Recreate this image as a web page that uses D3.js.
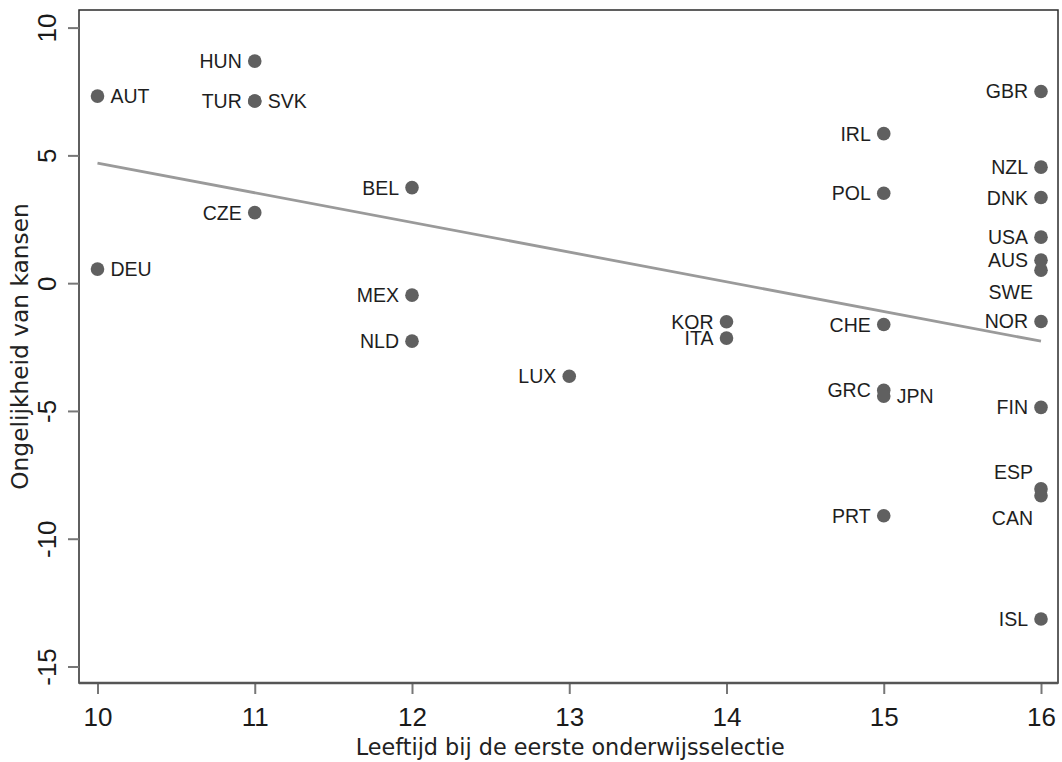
<!DOCTYPE html>
<html>
<head>
<meta charset="utf-8">
<script src="https://cdn.jsdelivr.net/npm/d3@7"></script>
<style>
  html, body { margin: 0; padding: 0; background: #fff; }
  svg { display: block; }
</style>
</head>
<body>
<svg id="chart" width="1062" height="762"></svg>
<script>
// Countries, age of first educational tracking, and inequality of opportunity
const countries = ["AUT","DEU","HUN","TUR","SVK","CZE","BEL","MEX","NLD","LUX","KOR","ITA",
                   "IRL","POL","CHE","GRC","JPN","PRT","GBR","NZL","DNK","USA","AUS","SWE",
                   "NOR","FIN","ESP","CAN","ISL"];
const trackingAge = [10,10,11,11,11,11,12,12,12,13,14,14,
                     15,15,15,15,15,15,16,16,16,16,16,16,
                     16,16,16,16,16];
const inequality = [7.32,0.55,8.69,7.13,7.13,2.76,3.74,-0.47,-2.27,-3.64,-1.51,-2.15,
                    5.85,3.52,-1.62,-4.19,-4.42,-9.10,7.50,4.54,3.35,1.80,0.90,0.51,
                    -1.50,-4.86,-8.05,-8.32,-13.14];

// Fitted regression line (end points)
const fitX = [10, 16];
const fitY = [4.70, -2.27];

// Axis ticks and titles
const xTicks = [10,11,12,13,14,15,16];
const yTicks = [-15,-10,-5,0,5,10];
const xTitle = "Leeftijd bij de eerste onderwijsselectie";
const yTitle = "Ongelijkheid van kansen";

// Marker label placement (clock position, 3 = right, 9 = left)
const labelClock = { AUT:3, DEU:3, SVK:3, JPN:3, SWE:7, CAN:7, ESP:11 };
const clockOffset = {
  3:  { dx: 13,  dy: 7,   anchor: "start" },
  9:  { dx: -13, dy: 7,   anchor: "end" },
  7:  { dx: -8,  dy: 29,  anchor: "end" },
  11: { dx: -8,  dy: -10, anchor: "end" }
};

const svg = d3.select("#chart");

// Plot frame
const frame = { left: 79, right: 1058, top: 10, bottom: 683 };

const x = d3.scaleLinear().domain([10, 16]).range([97.5, 1041]);
const y = d3.scaleLinear().domain([-15, 10]).range([666.5, 27.6]);

const points = countries.map((c, i) => ({ code: c, x: trackingAge[i], y: inequality[i] }));

// Plain hyphen-minus tick labels
const plainFormat = d => String(d);

// Frame box
svg.append("rect")
  .attr("x", frame.left).attr("y", frame.top)
  .attr("width", frame.right - frame.left).attr("height", frame.bottom - frame.top)
  .attr("fill", "#fff").attr("stroke", "#2b2b2b").attr("stroke-width", 1.5);

// X axis
const xAxis = d3.axisBottom(x).tickValues(xTicks).tickSize(11).tickPadding(8).tickFormat(plainFormat);
const gx = svg.append("g").attr("transform", `translate(0,${frame.bottom})`).call(xAxis);
gx.select(".domain").remove();
gx.selectAll(".tick line").attr("stroke", "#777").attr("stroke-width", 2);
gx.selectAll(".tick text")
  .attr("y", 43).attr("dy", null)
  .attr("font-family", "'Liberation Sans', Arial, sans-serif")
  .attr("font-size", 26).attr("fill", "#1a1a1a");
svg.append("line")
  .attr("x1", frame.left).attr("x2", frame.right)
  .attr("y1", frame.bottom).attr("y2", frame.bottom)
  .attr("stroke", "#555").attr("stroke-width", 2.5);

// Y axis
const yAxis = d3.axisLeft(y).tickValues(yTicks).tickSize(11).tickFormat(plainFormat);
const gy = svg.append("g").attr("transform", `translate(${frame.left},0)`).call(yAxis);
gy.select(".domain").remove();
gy.selectAll(".tick line").attr("stroke", "#777").attr("stroke-width", 2);
gy.selectAll(".tick text")
  .attr("x", null).attr("dy", null)
  .attr("transform", "translate(-23,0) rotate(-90)")
  .attr("text-anchor", "middle")
  .attr("font-family", "'Liberation Sans', Arial, sans-serif")
  .attr("font-size", 26).attr("fill", "#1a1a1a");

// Axis titles
svg.append("text")
  .attr("x", (x(10) + x(16)) / 2 + 1).attr("y", 755)
  .attr("text-anchor", "middle")
  .attr("font-family", "'DejaVu Sans', Verdana, sans-serif")
  .attr("font-size", 22.3).attr("fill", "#222")
  .text(xTitle);

svg.append("text")
  .attr("transform", `translate(28,${(frame.top + frame.bottom) / 2}) rotate(-90)`)
  .attr("text-anchor", "middle")
  .attr("font-family", "'DejaVu Sans', Verdana, sans-serif")
  .attr("font-size", 23.3).attr("fill", "#222")
  .text(yTitle);

// Regression line
svg.append("path")
  .datum(fitX.map((v, i) => [v, fitY[i]]))
  .attr("d", d3.line().x(d => x(d[0])).y(d => y(d[1])))
  .attr("fill", "none").attr("stroke", "#9a9a9a").attr("stroke-width", 2.8);

// Markers
svg.append("g").selectAll("circle")
  .data(points)
  .join("circle")
  .attr("cx", d => x(d.x)).attr("cy", d => y(d.y))
  .attr("r", 6.8).attr("fill", "#606060");

// Marker labels
svg.append("g").selectAll("text")
  .data(points)
  .join("text")
  .each(function(d) {
    const o = clockOffset[labelClock[d.code] || 9];
    d3.select(this)
      .attr("x", x(d.x) + o.dx).attr("y", y(d.y) + o.dy)
      .attr("text-anchor", o.anchor);
  })
  .attr("font-family", "'Liberation Sans', Arial, sans-serif")
  .attr("font-size", 19.5).attr("fill", "#1e1e1e")
  .text(d => d.code);
</script>
</body>
</html>
